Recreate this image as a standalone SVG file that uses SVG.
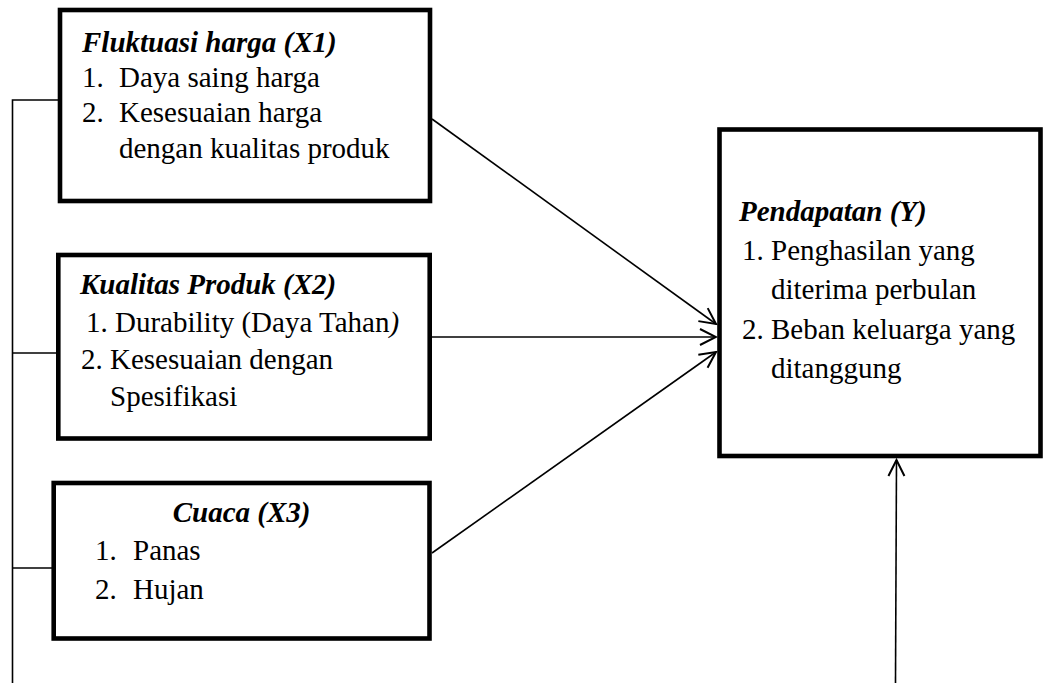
<svg xmlns="http://www.w3.org/2000/svg" width="1043" height="683" viewBox="0 0 1043 683">
<defs>
<style>
.box{fill:#fff;stroke:#000;stroke-width:4.6}
.t{font-family:"Liberation Serif","Times New Roman",serif;font-size:29px;fill:#000}
.h{font-weight:bold;font-style:italic}
.ln{stroke:#000;stroke-width:1.6;fill:none}
</style>
<marker id="ah" markerUnits="userSpaceOnUse" viewBox="-18 -10 20 20" refX="0" refY="0" markerWidth="20" markerHeight="20" orient="auto">
<path d="M-16,-8 L0,0 L-16,8" fill="none" stroke="#000" stroke-width="2"/>
</marker>
</defs>
<rect width="1043" height="683" fill="#fff"/>
<g id="connectors">
<polyline class="ln" points="58,100 12.5,100 12.5,683"/>
<line class="ln" x1="12.5" y1="353" x2="56" y2="353"/>
<line class="ln" x1="12.5" y1="568" x2="52" y2="568"/>
<line class="ln" x1="432" y1="119" x2="716" y2="324" marker-end="url(#ah)"/>
<line class="ln" x1="432" y1="337" x2="716" y2="337" marker-end="url(#ah)"/>
<line class="ln" x1="432" y1="553" x2="716" y2="352" marker-end="url(#ah)"/>
<line class="ln" x1="895.5" y1="683" x2="896.5" y2="460" marker-end="url(#ah)"/>
</g>
<g id="x1">
<rect class="box" x="60" y="10" width="370" height="191"/>
<text class="t h" x="82" y="52">Fluktuasi harga (X1)</text>
<text class="t" x="82" y="87">1.</text>
<text class="t" x="119" y="87">Daya saing harga</text>
<text class="t" x="82" y="122">2.</text>
<text class="t" x="119" y="122">Kesesuaian harga</text>
<text class="t" x="119" y="158">dengan kualitas produk</text>
</g>
<g id="x2">
<rect class="box" x="58.3" y="255" width="371.4" height="183.5"/>
<text class="t h" x="80" y="294">Kualitas Produk (X2)</text>
<text class="t" x="86" y="332">1. Durability (Daya Tahan<tspan font-style="italic">)</tspan></text>
<text class="t" x="81" y="369">2. Kesesuaian dengan</text>
<text class="t" x="110" y="406">Spesifikasi</text>
</g>
<g id="x3">
<rect class="box" x="53.7" y="483" width="375.8" height="155.5"/>
<text class="t h" x="241.6" y="522" text-anchor="middle">Cuaca (X3)</text>
<text class="t" x="95" y="560">1.</text>
<text class="t" x="133" y="560">Panas</text>
<text class="t" x="95" y="599">2.</text>
<text class="t" x="133" y="599">Hujan</text>
</g>
<g id="y">
<rect class="box" x="719.5" y="129.5" width="321" height="326.5"/>
<text class="t h" x="739" y="221">Pendapatan (Y)</text>
<text class="t" x="742" y="260">1. Penghasilan yang</text>
<text class="t" x="771" y="299">diterima perbulan</text>
<text class="t" x="742" y="339">2. Beban keluarga yang</text>
<text class="t" x="771" y="378">ditanggung</text>
</g>
</svg>
